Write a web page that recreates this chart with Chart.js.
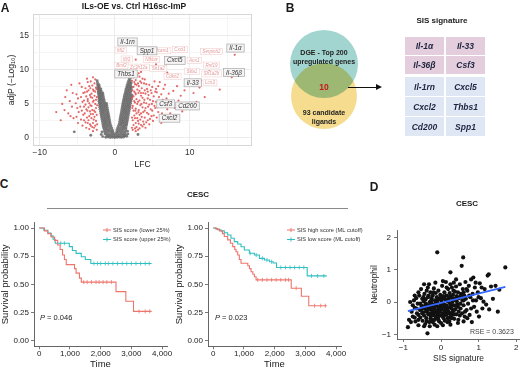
<!DOCTYPE html>
<html><head><meta charset="utf-8">
<script src="https://cdn.jsdelivr.net/npm/chart.js@4.4.1/dist/chart.umd.min.js"></script>
<style>
html,body{margin:0;padding:0;background:#fff}
body{position:relative;width:520px;height:370px;overflow:hidden;font-family:"Liberation Sans",Arial,Helvetica,sans-serif;color:#1a1a1a}
canvas{position:absolute}
.c{position:absolute;transform:translate(-50%,-50%);white-space:nowrap;line-height:1}
.l{position:absolute;transform:translateY(-50%);white-space:nowrap;line-height:1}
.b{font-weight:bold}
.cell{position:absolute;display:flex;align-items:center;justify-content:center;font-weight:bold;font-style:italic;font-size:8.5px;color:#1d2540}
</style></head>
<body>
<canvas id="cA" width="260" height="172" style="left:0;top:0"></canvas>
<canvas id="cB" width="130" height="160" style="left:259px;top:0"></canvas>
<canvas id="cC1" width="178" height="158" style="left:0;top:212px"></canvas>
<canvas id="cC2" width="196" height="158" style="left:174px;top:212px"></canvas>
<canvas id="cD" width="150" height="158" style="left:370px;top:212px"></canvas>

<div class="c b" style="left:5px;top:8px;font-size:12px">A</div>
<div class="c b" id="titleA" style="left:134px;top:6px;font-size:8.5px"></div>
<div class="c b" style="left:290px;top:8px;font-size:12px">B</div>
<div class="c b" id="sisTitle" style="left:442px;top:21px;font-size:8px"></div>
<div class="c b" id="venn1a" style="left:324px;top:52px;font-size:7px;color:#222"></div>
<div class="c b" id="venn1b" style="left:324px;top:61px;font-size:7px;color:#222"></div>
<div class="c b" id="vennN" style="left:324px;top:87px;font-size:8.5px;color:#c8141c"></div>
<div class="c b" id="venn2a" style="left:324px;top:112px;font-size:7px;color:#222"></div>
<div class="c b" id="venn2b" style="left:324px;top:121px;font-size:7px;color:#222"></div>
<div style="position:absolute;left:348px;top:86.5px;width:28px;height:1.3px;background:#111"></div>
<div style="position:absolute;left:376px;top:84px;width:0;height:0;border-top:3px solid transparent;border-bottom:3px solid transparent;border-left:6px solid #111"></div>
<div id="tbl"></div>
<div class="c b" style="left:4px;top:184px;font-size:12px">C</div>
<div class="c b" id="cescC" style="left:198px;top:195px;font-size:8px"></div>
<div style="position:absolute;left:47px;top:208px;width:301px;height:1px;background:#8a8a8a"></div>
<div class="c b" style="left:374px;top:187px;font-size:12px">D</div>
<div class="c b" id="cescD" style="left:467px;top:204px;font-size:8px"></div>
<div class="l" id="pL" style="left:40px;top:318px;font-size:7.5px;color:#222"></div>
<div class="l" id="pR" style="left:215px;top:318px;font-size:7.5px;color:#222"></div>
<div class="l" id="rse" style="left:470px;top:331px;font-size:7px;color:#444"></div>

<script>
// ================= DATA =================
// Panel A: volcano (LFC, -log10 adjP)
const volcTitle = 'ILs-OE vs. Ctrl H16sc-ImP';
const volcXTicks = [-10, 0, 10];
const volcXGrid = [-10, -5, 0, 5, 10, 15];
const volcYTicks = [0, 5, 10, 15];
const volcYGrid = [0, 2.5, 5, 7.5, 10, 12.5, 15, 17.5];
const volcGray = [
-1.2,0.1,-0.9,0.15,-0.6,0.05,-0.3,0.1,0,0.05,0.3,0.1,0.6,0.12,0.9,0.08,1.2,0.15,
-1.05,0.35,-0.75,0.3,-0.45,0.32,-0.15,0.28,0.15,0.3,0.45,0.33,0.75,0.3,1.05,0.35,1.35,0.3,
-1.3,0.6,-1.0,0.6,-0.7,0.55,-0.4,0.6,-0.1,0.58,0.2,0.6,0.5,0.58,0.8,0.62,1.1,0.6,1.4,0.55,
-1.35,0.9,-1.1,0.88,-0.8,0.92,-0.5,0.9,-0.25,0.85,0.25,0.88,0.5,0.9,0.8,0.92,1.1,0.9,1.4,0.86,
-1.4,1.2,-1.15,1.22,-0.9,1.18,-0.6,1.2,-0.3,1.15,0.3,1.2,0.6,1.18,0.9,1.22,1.15,1.2,1.45,1.18,
-1.5,1.5,-1.25,1.52,-1.0,1.48,-0.7,1.5,-0.4,1.45,0.4,1.5,0.7,1.48,1.0,1.52,1.25,1.5,1.5,1.48,
-1.55,1.8,-1.3,1.82,-1.05,1.78,-0.8,1.8,-0.5,1.76,0.5,1.8,0.8,1.82,1.05,1.78,1.3,1.8,1.55,1.82,
-1.6,2.1,-1.35,2.12,-1.1,2.08,-0.85,2.1,-0.6,2.05,0.6,2.1,0.85,2.08,1.1,2.12,1.35,2.1,1.6,2.08,
-1.65,2.4,-1.4,2.42,-1.15,2.38,-0.9,2.4,-0.65,2.36,0.65,2.4,0.9,2.38,1.15,2.42,1.4,2.4,1.65,2.38,
-1.7,2.7,-1.45,2.72,-1.2,2.68,-0.95,2.7,-0.7,2.66,0.7,2.7,0.95,2.68,1.2,2.72,1.45,2.7,1.7,2.68,
-1.75,3.0,-1.5,3.02,-1.25,2.98,-1.0,3.0,-0.75,2.96,0.75,3.0,1.0,2.98,1.25,3.02,1.5,3.0,1.75,2.98,
-1.8,3.3,-1.55,3.32,-1.3,3.28,-1.05,3.3,-0.8,3.26,0.8,3.3,1.05,3.28,1.3,3.32,1.55,3.3,1.8,3.28,
-1.85,3.6,-1.6,3.62,-1.35,3.58,-1.1,3.6,-0.85,3.56,0.85,3.6,1.1,3.58,1.35,3.62,1.6,3.6,1.85,3.58,
-1.9,3.9,-1.65,3.92,-1.4,3.88,-1.15,3.9,-0.9,3.86,0.9,3.9,1.15,3.88,1.4,3.92,1.65,3.9,1.9,3.88,
-1.95,4.2,-1.7,4.22,-1.45,4.18,-1.2,4.2,-0.95,4.16,0.95,4.2,1.2,4.18,1.45,4.22,1.7,4.2,1.95,4.18,
-2.0,4.5,-1.75,4.52,-1.5,4.48,-1.25,4.5,-1.0,4.46,1.0,4.5,1.25,4.48,1.5,4.52,1.75,4.5,2.0,4.48,
-2.0,4.8,-1.8,4.82,-1.55,4.78,-1.3,4.8,-1.05,4.76,1.05,4.8,1.3,4.78,1.55,4.82,1.8,4.8,2.05,4.78,
-2.05,5.1,-1.85,5.12,-1.6,5.08,-1.35,5.1,-1.1,5.06,1.1,5.1,1.35,5.08,1.6,5.12,1.85,5.1,2.1,5.08,
-2.1,5.4,-1.9,5.42,-1.65,5.38,-1.4,5.4,1.15,5.4,1.4,5.38,1.65,5.42,1.9,5.4,2.15,5.38,
-2.1,5.7,-1.9,5.72,-1.7,5.68,-1.45,5.7,1.2,5.7,1.45,5.68,1.7,5.72,1.95,5.7,2.2,5.68,
-2.15,6.0,-1.95,6.02,-1.75,5.98,-1.5,6.0,1.25,6.0,1.5,5.98,1.75,6.02,2.0,6.0,2.25,5.98,
-2.15,6.3,-1.95,6.32,-1.75,6.28,-1.55,6.3,1.3,6.3,1.55,6.28,1.8,6.32,2.05,6.3,2.3,6.28,
-2.2,6.6,-2.0,6.62,-1.8,6.58,-1.6,6.6,1.4,6.6,1.6,6.58,1.85,6.62,2.1,6.6,
-2.2,6.9,-2.0,6.92,-1.8,6.88,1.45,6.9,1.7,6.88,1.9,6.92,2.15,6.9,
-2.25,7.2,-2.05,7.22,-1.85,7.18,1.5,7.2,1.75,7.18,2.0,7.22,2.2,7.2,
-2.25,7.5,-2.05,7.52,1.6,7.5,1.8,7.48,2.05,7.52,2.25,7.5,
-2.3,7.8,-2.1,7.82,1.65,7.8,1.9,7.78,2.1,7.82,
-2.3,8.1,1.75,8.1,2.0,8.12,2.2,8.08,
-2.35,8.4,1.85,8.4,2.1,8.42,
1.95,8.7,2.2,8.9,-5.4,0.9,-3.2,0.4,3.1,0.5,
-1.6,0.2,-1.8,0.5,-1.7,0.9,1.6,0.25,1.75,0.6,1.7,1.0
];
const volcRedLeft = [
-2.4,1.2,-2.6,1.8,-2.5,2.5,-2.7,3.1,-2.6,3.8,-2.5,4.4,-2.6,5.0,-2.5,5.6,-2.7,6.2,-2.6,6.8,-2.5,7.4,-2.7,8.0,-2.6,8.6,
-2.9,1.0,-3.0,1.6,-2.9,2.2,-3.1,2.9,-2.9,3.5,-3.0,4.1,-3.1,4.7,-2.9,5.3,-3.0,5.9,-3.1,6.5,-2.9,7.1,-3.0,7.7,-3.2,8.3,-2.9,8.9,
-3.4,1.3,-3.3,2.0,-3.5,2.6,-3.4,3.2,-3.3,3.9,-3.5,4.5,-3.4,5.1,-3.6,5.7,-3.3,6.3,-3.5,7.0,-3.4,7.6,-3.6,8.2,
-3.8,1.5,-3.9,2.3,-3.7,3.0,-4.0,3.6,-3.8,4.2,-3.9,4.9,-4.1,5.5,-3.8,6.1,-4.0,6.7,-3.9,7.3,
-4.3,1.8,-4.5,2.7,-4.2,3.4,-4.4,4.0,-4.6,4.6,-4.3,5.3,-4.5,6.0,-4.2,6.6,-4.4,7.5,
-4.9,2.2,-5.1,3.1,-4.8,3.8,-5.0,4.4,-5.2,5.1,-4.9,5.8,-5.1,6.4,
-5.5,2.9,-5.7,4.6,-5.6,6.6,-5.8,7.8,-6.0,5.4,-6.2,3.6,-6.7,4.1,-6.4,7.0,-7.0,5.0,-7.8,3.8,-7.2,2.6,-6.6,6.0,-5.9,3.2,-4.7,8.0,-3.7,8.7,
-2.35,2.0,-2.4,3.4,-2.35,4.8,-2.4,6.0,-2.45,7.2,-2.75,1.5,-2.8,2.7,-2.75,4.0,-2.8,5.5,-2.8,6.9,
-3.2,1.8,-3.2,3.5,-3.25,4.8,-3.2,6.0,-3.25,7.3,-3.6,2.2,-3.65,4.0,-3.6,5.4,-3.7,6.8,-4.1,2.6,-4.1,4.6
];
const volcRedRight = [
2.4,1.2,2.5,1.9,2.4,2.6,2.6,3.3,2.5,4.0,2.4,4.7,2.6,5.4,2.5,6.1,2.6,6.8,2.5,7.5,2.6,8.2,2.5,8.9,2.4,9.5,
2.8,1.0,2.9,1.6,2.8,2.2,3.0,2.9,2.9,3.6,2.8,4.3,3.0,5.0,2.9,5.7,2.8,6.4,3.0,7.1,2.9,7.8,2.8,8.5,3.0,9.2,
3.3,1.4,3.2,2.1,3.4,2.7,3.3,3.4,3.2,4.1,3.4,4.8,3.3,5.5,3.5,6.2,3.3,6.9,3.2,7.6,3.4,8.3,3.3,9.0,3.5,9.7,
3.7,1.7,3.8,2.4,3.6,3.1,3.8,3.8,3.7,4.5,3.9,5.2,3.7,5.9,3.8,6.6,3.6,7.3,3.9,8.0,3.7,8.7,
4.1,1.5,4.2,2.3,4.0,3.0,4.3,3.7,4.1,4.4,4.2,5.1,4.4,5.8,4.1,6.5,4.3,7.2,4.2,7.9,4.0,8.6,
4.6,2.0,4.7,2.8,4.5,3.5,4.8,4.2,4.6,4.9,4.7,5.6,4.5,6.3,4.8,7.0,4.6,7.8,
5.1,2.5,5.2,3.3,5.0,4.0,5.3,4.7,5.1,5.4,5.2,6.1,5.4,6.8,5.0,7.5,5.3,8.3,
5.6,3.0,5.8,3.8,5.7,4.5,5.5,5.3,5.9,6.0,5.6,6.7,5.8,7.6,
6.2,2.2,6.3,3.6,6.1,4.9,6.4,5.6,6.2,6.4,6.5,7.2,6.0,8.2,
6.8,3.0,7.0,4.2,6.9,5.8,7.2,6.5,6.7,7.8,7.4,3.6,7.6,5.1,7.8,6.9,8.0,4.4,8.3,7.6,8.5,5.5,8.8,6.2,9.0,3.9,
9.3,7.0,9.6,8.5,10.2,4.6,10.9,5.3,10.5,6.6,11.3,7.4,12.0,6.0,13.3,8.1,14.0,7.1,12.6,9.8,16.0,12.2,15.6,8.9,
8.1,9.3,7.0,9.6,6.3,10.2,5.5,10.8,4.7,11.3,2.8,11.5,3.6,10.6,9.8,9.9,11.5,8.4,
2.3,1.5,2.3,3.0,2.35,4.4,2.3,5.8,2.35,7.0,2.3,8.4,2.7,1.4,2.7,2.9,2.75,4.0,2.7,5.2,2.75,6.6,2.7,7.9,2.7,9.4,
3.1,1.2,3.1,2.5,3.15,3.8,3.1,5.3,3.15,6.6,3.1,8.0,3.2,9.5,3.5,1.9,3.5,3.6,3.55,5.0,3.5,6.6,3.55,8.1,
3.9,2.0,4.0,4.0,3.95,5.6,4.0,7.0,4.4,2.6,4.45,4.6,4.4,6.8,4.9,3.2,4.95,5.0,4.9,6.6,5.4,4.4,5.5,7.2
];
const volcKeyGenes = ['Il-1rn','Spp1','Cxcl5','Thbs1','Il-33','Csf3','Cd200','Cxcl2','Il-1\u03b1','Il-36\u03b2'];
const volcKeyX = [1.7, 4.3, 8.0, 1.5, 10.4, 6.8, 9.7, 7.3, 16.1, 15.9];
const volcKeyY = [14.1, 12.8, 11.4, 9.4, 8.1, 5.0, 4.7, 2.9, 13.2, 9.6];
const volcMinorGenes = ['Mt2','Ifit3','Bmf2','Zc3h12a','Nfkbiz','Icam1','Cxcl1','Sh1a2','Cdkn2','Aox1','Serpinb2','Stfa1','Rnf19','Sh1a2b','Lcn2'];
const volcMinorX = [0.8, 1.6, 0.9, 3.2, 4.9, 6.4, 8.7, 5.8, 7.7, 10.6, 12.9, 10.3, 12.9, 12.9, 12.7];
const volcMinorY = [12.9, 11.6, 10.6, 10.4, 11.5, 12.8, 13.0, 10.2, 9.0, 11.4, 12.7, 9.8, 10.7, 9.4, 8.1];

// Panel B: Venn + SIS signature table
const vennSetA = ['DGE - Top 200', 'upregulated genes'];
const vennSetB = ['93 candidate', 'ligands'];
const vennOverlap = 10;
const sisTitle = 'SIS signature';
const sisGenesCol1 = ['Il-1\u03b1', 'Il-36\u03b2', 'Il-1rn', 'Cxcl2', 'Cd200'];
const sisGenesCol2 = ['Il-33', 'Csf3', 'Cxcl5', 'Thbs1', 'Spp1'];
const sisGroup = ['IL', 'IL', 'other', 'other', 'other'];

// Panel C: Kaplan-Meier (CESC)
const cohort = 'CESC';
const kmTimeTicks = [0, 1000, 2000, 3000, 4000];
const kmSurvTicks = [0, 0.25, 0.5, 0.75, 1];
const kmLowerLabel = 'SIS score (lower 25%)';
const kmLowerT = [0, 170, 280, 390, 500, 600, 680, 760, 820, 880, 1150, 1200, 1310, 1370, 2500, 2820, 3070, 3660];
const kmLowerS = [1, 0.975, 0.95, 0.92, 0.89, 0.85, 0.81, 0.76, 0.72, 0.675, 0.64, 0.60, 0.555, 0.52, 0.435, 0.35, 0.26, 0.26];
const kmLowerCens = [1450, 1560, 1700, 1850, 1950, 2080, 2200, 2350, 3250, 3450, 3600];
const kmUpperLabel = 'SIS score (upper 25%)';
const kmUpperT = [0, 150, 280, 380, 450, 520, 980, 1080, 1200, 1370, 1500, 1680, 3660];
const kmUpperS = [1, 0.98, 0.955, 0.93, 0.9, 0.865, 0.835, 0.80, 0.775, 0.745, 0.72, 0.685, 0.685];
const kmUpperCens = [700, 820, 1780, 1900, 2000, 2150, 2250, 2400, 2550, 2700, 2850, 3000, 3150, 3300, 3450, 3580];
const kmPLeft = '0.046';
const kmHighLabel = 'SIS high score (ML cutoff)';
const kmHighT = [0, 100, 200, 300, 360, 470, 560, 634, 700, 742, 797, 850, 905, 1125, 1180, 1232, 1290, 1340, 1395, 2540, 2870, 3110, 3700];
const kmHighS = [1, 0.99, 0.975, 0.95, 0.925, 0.895, 0.865, 0.835, 0.81, 0.79, 0.76, 0.72, 0.687, 0.665, 0.64, 0.612, 0.59, 0.568, 0.54, 0.466, 0.395, 0.31, 0.31];
const kmHighCens = [1450, 1600, 1750, 1900, 2050, 2200, 2350, 2450, 2700, 3300, 3500, 3650];
const kmLowLabel = 'SIS low score (ML cutoff)';
const kmLowT = [0, 80, 144, 252, 360, 470, 578, 686, 797, 905, 1013, 1176, 1340, 1503, 1667, 1830, 1950, 2060, 3060, 3700];
const kmLowS = [1, 0.995, 0.985, 0.975, 0.958, 0.938, 0.909, 0.879, 0.858, 0.834, 0.805, 0.776, 0.76, 0.731, 0.716, 0.701, 0.69, 0.65, 0.575, 0.575];
const kmLowCens = [1200, 1400, 1600, 1750, 1900, 2200, 2350, 2500, 2650, 2800, 2950, 3200, 3400, 3600];
const kmPRight = '0.023';

// Panel D: SIS signature vs Neutrophil (x, y pairs)
const dTicks = [-1, 0, 1, 2];
const sisVsNeutrophil = [
-0.88,-0.78,-0.85,-0.55,-0.8,-0.62,-0.78,-0.3,-0.75,-0.45,-0.72,0.05,-0.7,-0.18,-0.68,-0.6,-0.66,0.12,-0.64,-0.35,
-0.62,-0.05,-0.6,-0.72,-0.58,0.2,-0.56,-0.25,-0.55,-0.48,-0.53,0.4,-0.52,-0.12,-0.5,0.1,-0.49,-0.58,-0.48,-0.32,
-0.46,0.02,-0.45,-0.42,-0.44,0.25,-0.43,-0.2,-0.42,-0.68,-0.41,0.08,-0.4,-0.05,-0.39,-0.5,-0.38,0.35,-0.37,-0.28,
-0.36,-0.97,-0.35,0.15,-0.34,-0.38,-0.33,-0.1,-0.32,0.55,-0.31,-0.62,-0.3,0.0,-0.29,-0.22,-0.28,0.3,-0.27,-0.45,
-0.26,-0.15,-0.25,0.12,-0.24,-0.55,-0.23,-0.3,-0.22,0.2,-0.21,-0.08,-0.2,-0.4,-0.19,0.42,-0.18,-0.2,-0.17,-0.7,
-0.16,0.05,-0.15,-0.32,-0.14,0.28,-0.13,-0.12,-0.12,-0.5,-0.11,0.15,-0.1,1.54,-0.1,-0.25,-0.09,-0.02,-0.08,-0.38,
-0.07,0.35,-0.06,-0.18,-0.05,-0.6,-0.04,0.1,-0.03,-0.28,-0.02,0.22,-0.01,-0.1,0.0,-0.42,0.01,0.05,0.02,-0.22,
0.03,0.5,0.04,-0.35,0.05,-0.05,0.06,0.18,0.07,-0.5,0.08,-0.15,0.09,0.3,0.1,-0.28,0.11,0.08,0.12,-0.4,
0.13,0.62,0.14,-0.1,0.15,0.2,0.16,-0.25,0.17,-0.62,0.18,0.02,0.19,0.4,0.2,-0.18,0.21,0.12,0.22,-0.35,
0.23,0.28,0.24,-0.05,0.25,0.92,0.26,-0.45,0.27,0.15,0.28,-0.2,0.29,0.45,0.3,0.0,0.31,-0.3,0.32,0.22,
0.33,-0.1,0.34,0.6,0.35,-0.52,0.36,0.1,0.37,0.32,0.38,-0.22,0.39,0.05,0.4,0.48,0.41,-0.38,0.42,0.18,
0.44,-0.08,0.45,0.3,0.46,-0.55,0.48,0.12,0.5,0.55,0.52,-0.2,0.53,0.25,0.55,1.12,0.56,-0.35,0.57,0.05,
0.58,0.4,0.59,1.38,0.6,-0.1,0.62,0.2,0.63,-0.45,0.65,0.62,0.66,0.1,0.68,-0.25,0.7,0.35,0.72,-0.05,
0.74,0.5,0.76,-0.4,0.78,0.15,0.8,0.7,0.82,-0.62,0.84,0.25,0.86,0.76,0.88,-0.15,0.9,0.45,0.93,0.05,
0.95,-0.3,0.98,0.3,1.01,-0.45,1.03,0.58,1.06,0.12,1.1,-0.2,1.13,0.01,1.16,0.4,1.2,-0.08,1.24,0.82,
1.27,0.86,1.28,-0.23,1.33,0.48,1.38,0.1,1.45,0.5,1.51,-0.3,1.55,0.38,1.71,1.07,
-0.3,-0.35,-0.2,-0.25,-0.1,-0.35,0.0,-0.2,0.1,-0.3,0.2,-0.3,-0.25,-0.05,-0.15,-0.45,0.05,-0.45,0.15,-0.38,
-0.05,-0.15,0.12,-0.2,-0.35,-0.2,0.25,-0.12,-0.4,-0.3,0.08,-0.08,-0.18,-0.12,0.3,-0.4,-0.08,-0.48,0.18,-0.5,
-0.22,-0.62,0.0,-0.65,0.22,-0.6,-0.45,-0.15,0.35,-0.25,-0.12,0.0,0.02,0.12,0.28,-0.5,-0.28,-0.52,0.1,-0.58,
-0.6,-0.4,-0.52,-0.22,0.45,-0.15,0.5,-0.42,-0.35,0.45,0.15,0.45,-0.6,0.3,0.6,0.3,-0.7,-0.48,0.7,-0.5,
0.5,0.15,-0.15,0.6,0.05,0.65,0.4,0.7,-0.45,0.55,0.25,0.55,
-0.55,-0.05,-0.5,-0.35,-0.47,0.15,-0.42,-0.1,-0.38,-0.6,-0.33,0.2,-0.3,-0.15,-0.26,0.05,-0.23,-0.4,-0.2,0.3,
-0.17,-0.55,-0.14,-0.05,-0.1,0.05,-0.07,-0.55,-0.04,-0.3,0.0,0.15,0.03,-0.1,0.06,-0.38,0.09,0.12,0.12,-0.12,
0.15,0.05,0.18,-0.3,0.21,-0.48,0.24,0.18,0.27,-0.35,0.3,0.1,0.33,0.35,0.36,-0.38,0.39,-0.1,0.42,0.02,
0.47,-0.3,0.51,-0.05,0.55,0.2,0.6,0.05,0.64,-0.3,0.68,0.4,0.75,0.2,0.8,-0.2,0.85,0.05,0.92,0.6,1.0,0.15,1.08,0.45,
-0.65,-0.2,-0.7,0.2,-0.75,-0.1,-0.82,0.0,-0.6,-0.55,-0.45,-0.75,-0.3,-0.75,-0.1,-0.75,0.05,-0.72,0.25,-0.7,0.45,-0.65,0.6,-0.6
];
const regX = [-0.88, 1.71];
const regY = [-0.28, 0.47];
const rseText = 'RSE = 0.3623';

// ================= HELPERS =================
Chart.defaults.font.family = '"Liberation Sans", Arial, Helvetica, sans-serif';
Chart.defaults.color = '#222';
function pairs(flat){const o=[];for(let i=0;i<flat.length;i+=2)o.push({x:flat[i],y:flat[i+1]});return o;}
function survAt(T,S,t){let v=S[0];for(let i=0;i<T.length;i++){if(T[i]<=t)v=S[i];}return v;}
const minus = v => v < 0 ? '\u2212' + Math.abs(v) : String(v);
const base = {responsive:false, animation:false, events:[]};
const noPlug = {legend:{display:false}, tooltip:{enabled:false}};

// ================= TEXT OVERLAYS =================
document.getElementById('titleA').textContent = volcTitle;
document.getElementById('sisTitle').textContent = sisTitle;
document.getElementById('venn1a').textContent = vennSetA[0];
document.getElementById('venn1b').textContent = vennSetA[1];
document.getElementById('venn2a').textContent = vennSetB[0];
document.getElementById('venn2b').textContent = vennSetB[1];
document.getElementById('vennN').textContent = vennOverlap;
document.getElementById('cescC').textContent = cohort;
document.getElementById('cescD').textContent = cohort;
document.getElementById('pL').innerHTML = '<i>P</i> = ' + kmPLeft;
document.getElementById('pR').innerHTML = '<i>P</i> = ' + kmPRight;
document.getElementById('rse').textContent = rseText;
(function(){
  const tbl = document.getElementById('tbl');
  const rowTop = [37, 56, 77, 97, 117], rowH = [18, 18, 19, 19, 19];
  sisGenesCol1.forEach((g, i) => {
    [g, sisGenesCol2[i]].forEach((name, j) => {
      const d = document.createElement('div');
      d.className = 'cell';
      d.style.left = (j ? 446 : 405) + 'px';
      d.style.width = '39px';
      d.style.top = rowTop[i] + 'px';
      d.style.height = rowH[i] + 'px';
      d.style.background = sisGroup[i] === 'IL' ? '#e4cddc' : '#dfe7f4';
      d.textContent = name;
      tbl.appendChild(d);
    });
  });
})();

// ================= PANEL A: volcano =================
const volcPlugin = {
  id:'volcDeco',
  afterDatasetsDraw(chart){
    const {ctx, chartArea:a, scales:{x, y}} = chart;
    ctx.save();
    ctx.strokeStyle = '#d6d6d6'; ctx.lineWidth = 1;
    ctx.strokeRect(a.left + 0.5, a.top + 0.5, a.right - a.left - 1, a.bottom - a.top - 1);
    ctx.textAlign = 'center'; ctx.textBaseline = 'middle';
    ctx.font = 'italic 4.5px "Liberation Sans", Arial';
    volcMinorGenes.forEach((g, i) => {
      const px = x.getPixelForValue(volcMinorX[i]), py = y.getPixelForValue(volcMinorY[i]);
      const w = ctx.measureText(g).width + 4, h = 6;
      ctx.fillStyle = 'rgba(255,255,255,0.9)'; ctx.fillRect(px - w/2, py - h/2, w, h);
      ctx.strokeStyle = '#f0cfcf'; ctx.lineWidth = 0.6; ctx.strokeRect(px - w/2, py - h/2, w, h);
      ctx.fillStyle = '#e49a9a'; ctx.fillText(g, px, py + 0.3);
    });
    ctx.font = 'italic 6.3px "Liberation Sans", Arial';
    volcKeyGenes.forEach((g, i) => {
      const px = x.getPixelForValue(volcKeyX[i]), py = y.getPixelForValue(volcKeyY[i]);
      const w = ctx.measureText(g).width + 5, h = 8;
      ctx.fillStyle = '#f5f3f3'; ctx.fillRect(px - w/2, py - h/2, w, h);
      ctx.strokeStyle = '#a9a9a9'; ctx.lineWidth = 0.7; ctx.strokeRect(px - w/2, py - h/2, w, h);
      ctx.fillStyle = '#333'; ctx.fillText(g, px, py + 0.3);
    });
    ctx.restore();
  }
};
new Chart(document.getElementById('cA'), {
  type:'scatter',
  data:{datasets:[
    {data:pairs(volcRedLeft), pointBackgroundColor:'rgba(226,88,88,0.9)', pointBorderWidth:0, pointRadius:1.1},
    {data:pairs(volcRedRight), pointBackgroundColor:'rgba(226,88,88,0.9)', pointBorderWidth:0, pointRadius:1.1},
    {data:pairs(volcGray), pointBackgroundColor:'rgba(105,105,105,0.85)', pointBorderWidth:0, pointRadius:1.45}
  ]},
  options:{...base,
    layout:{autoPadding:false, padding:{left:0, right:8, top:14, bottom:0}},
    plugins:noPlug,
    scales:{
      x:{type:'linear', min:-10.9, max:18.3,
        afterBuildTicks:s => { s.ticks = volcXGrid.map(v => ({value:v})); },
        afterFit:s => { s.height = 26; },
        grid:{drawTicks:false, lineWidth:0.8, color:c => (c.tick && volcXTicks.includes(c.tick.value)) ? '#e7e7e7' : '#f3f3f3'},
        border:{display:false},
        ticks:{padding:2, autoSkip:false, maxRotation:0, font:{size:8.5}, color:'#333', callback:v => volcXTicks.includes(v) ? minus(v) : ''},
        title:{display:true, text:'LFC', font:{size:8.5}, color:'#222', padding:{top:0, bottom:2}}
      },
      y:{type:'linear', min:-1.18, max:18.2,
        afterBuildTicks:s => { s.ticks = volcYGrid.map(v => ({value:v})); },
        afterFit:s => { s.width = 33; },
        grid:{drawTicks:false, lineWidth:0.8, color:c => (c.tick && volcYTicks.includes(c.tick.value)) ? '#e7e7e7' : '#f3f3f3'},
        border:{display:false},
        ticks:{padding:4, autoSkip:false, font:{size:8.5}, color:'#333', callback:v => volcYTicks.includes(v) ? String(v) : ''},
        title:{display:true, text:'adjP (\u2212Log\u2081\u2080)', font:{size:8.5}, color:'#222', padding:{top:7, bottom:0}}
      }
    }
  },
  plugins:[volcPlugin]
});

// ================= PANEL B: Venn =================
new Chart(document.getElementById('cB'), {
  type:'bubble',
  data:{datasets:[
    {label:vennSetB.join(' '), data:[{x:0, y:-0.2, r:33}], backgroundColor:'#f6dc8e', borderWidth:0},
    {label:vennSetA.join(' '), data:[{x:0, y:0.2, r:34}], backgroundColor:'#a2d5cf', borderWidth:0}
  ]},
  options:{...base, layout:{autoPadding:false, padding:0}, plugins:noPlug,
    scales:{x:{display:false, min:-1, max:1}, y:{display:false, min:-1, max:1}}},
  plugins:[{id:'multiply',
    beforeDatasetDraw(chart, args){ if(args.index === 0){ chart.ctx.save(); chart.ctx.globalCompositeOperation = 'multiply'; } },
    afterDatasetDraw(chart, args){ if(args.index === 0){ chart.ctx.restore(); } }
  }]
});

// ================= PANEL C: KM =================
const kmLegendPlugin = {
  id:'kmLegend',
  afterDraw(chart, args, opts){
    const ctx = chart.ctx; ctx.save();
    ctx.font = '5.7px "Liberation Sans", Arial'; ctx.textBaseline = 'middle'; ctx.textAlign = 'left';
    let row = 0;
    chart.data.datasets.forEach(ds => {
      if(!ds.kmKey) return;
      const y = opts.y + row * opts.gap;
      ctx.strokeStyle = ds.borderColor; ctx.lineWidth = 1;
      ctx.beginPath(); ctx.moveTo(opts.x, y); ctx.lineTo(opts.x + 8, y);
      ctx.moveTo(opts.x + 4, y - 2); ctx.lineTo(opts.x + 4, y + 2); ctx.stroke();
      ctx.fillStyle = '#333'; ctx.fillText(ds.label, opts.x + 10, y + 0.3);
      row++;
    });
    ctx.restore();
  }
};
function kmChart(id, sets, legendAt, padRight){
  const datasets = [];
  sets.forEach(s => {
    datasets.push({label:s.label, kmKey:true, data:s.T.map((t, i) => ({x:t, y:s.S[i]})), showLine:true, stepped:'before',
      borderColor:s.color, borderWidth:1.1, pointRadius:0, fill:false});
    datasets.push({label:'', data:s.C.map(t => ({x:t, y:survAt(s.T, s.S, t)})), showLine:false,
      pointStyle:'line', pointRotation:90, pointRadius:2, pointBorderColor:s.color, pointBorderWidth:0.8, borderColor:s.color});
  });
  const axisCommon = {
    grid:{drawOnChartArea:false, drawTicks:true, tickLength:3, tickColor:'#555', tickWidth:0.8},
    border:{display:true, color:'#555', width:0.9}
  };
  return new Chart(document.getElementById(id), {
    type:'scatter',
    data:{datasets},
    options:{...base,
      layout:{autoPadding:false, padding:{left:0, right:padRight, top:10.4, bottom:0}},
      plugins:{...noPlug, kmLegend:legendAt},
      scales:{
        x:{type:'linear', min:-170, max:4160, ...axisCommon,
          afterBuildTicks:a => { a.ticks = kmTimeTicks.map(v => ({value:v})); },
          afterFit:a => { a.height = 23.7; },
          ticks:{padding:0, autoSkip:false, maxRotation:0, font:{size:8}, color:'#222', callback:v => v.toLocaleString('en-US')},
          title:{display:true, text:'Time', font:{size:9.5}, color:'#222', padding:{top:0, bottom:0}}
        },
        y:{type:'linear', min:-0.05, max:1.05, ...axisCommon,
          afterBuildTicks:a => { a.ticks = kmSurvTicks.map(v => ({value:v})); },
          afterFit:a => { a.width = 34; },
          ticks:{padding:2, autoSkip:false, font:{size:8}, color:'#222', callback:v => v.toFixed(2)},
          title:{display:true, text:'Survival probability', font:{size:9.5}, color:'#222', padding:{top:0, bottom:0}}
        }
      }
    },
    plugins:[kmLegendPlugin]
  });
}
const RED = '#ef746c', TEAL = '#2fbfc0';
kmChart('cC1', [
  {label:kmLowerLabel, T:kmLowerT, S:kmLowerS, C:kmLowerCens, color:RED},
  {label:kmUpperLabel, T:kmUpperT, S:kmUpperS, C:kmUpperCens, color:TEAL}
], {x:103, y:18, gap:9.5}, 11);
kmChart('cC2', [
  {label:kmHighLabel, T:kmHighT, S:kmHighS, C:kmHighCens, color:RED},
  {label:kmLowLabel, T:kmLowT, S:kmLowS, C:kmLowCens, color:TEAL}
], {x:113, y:18, gap:9.5}, 29);

// ================= PANEL D: scatter =================
new Chart(document.getElementById('cD'), {
  type:'scatter',
  data:{datasets:[
    {data:regX.map((x, i) => ({x, y:regY[i]})), showLine:true, borderColor:'#3366ff', borderWidth:1.7, pointRadius:0},
    {data:pairs(sisVsNeutrophil), pointBackgroundColor:'#111', pointBorderWidth:0, pointRadius:2.1}
  ]},
  options:{...base,
    layout:{autoPadding:false, padding:{left:0, right:0, top:18, bottom:0}},
    plugins:noPlug,
    scales:{
      x:{type:'linear', min:-1.17, max:2.1,
        grid:{drawOnChartArea:false, drawTicks:true, tickLength:3, tickColor:'#555', tickWidth:0.8},
        border:{display:true, color:'#555', width:0.9},
        afterBuildTicks:a => { a.ticks = dTicks.map(v => ({value:v})); },
        afterFit:a => { a.height = 31; },
        ticks:{padding:1, autoSkip:false, maxRotation:0, font:{size:8}, color:'#222', callback:v => minus(v)},
        title:{display:true, text:'SIS signature', font:{size:8.5}, color:'#222', padding:{top:0, bottom:6}}
      },
      y:{type:'linear', min:-1.145, max:2.23,
        grid:{drawOnChartArea:false, drawTicks:true, tickLength:3, tickColor:'#555', tickWidth:0.8},
        border:{display:true, color:'#555', width:0.9},
        afterBuildTicks:a => { a.ticks = dTicks.map(v => ({value:v})); },
        afterFit:a => { a.width = 27; },
        ticks:{padding:3, autoSkip:false, font:{size:8}, color:'#222', callback:v => minus(v)},
        title:{display:true, text:'Neutrophil', font:{size:8.5}, color:'#222', padding:{top:0, bottom:0}}
      }
    }
  }
});
</script>
</body></html>
